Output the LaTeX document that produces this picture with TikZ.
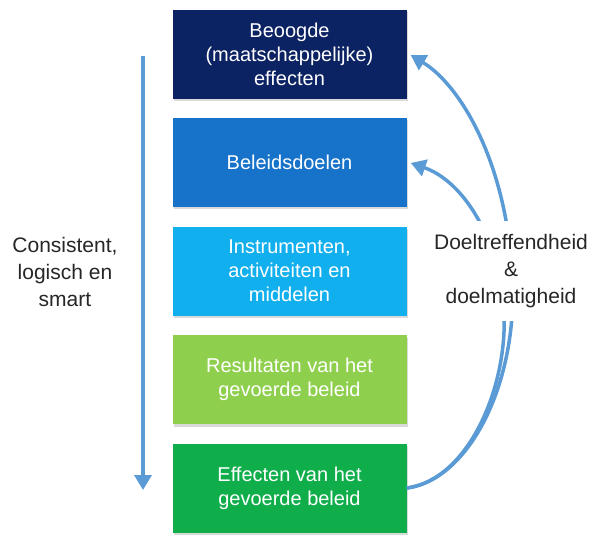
\documentclass[tikz,border=0pt]{standalone}
\usepackage{fontspec}
\setmainfont{Liberation Sans}
\usetikzlibrary{arrows.meta,shadows}
\definecolor{kleur1}{HTML}{0B2263}
\definecolor{kleur2}{HTML}{1772C9}
\definecolor{kleur3}{HTML}{12AFEE}
\definecolor{kleur4}{HTML}{8FCF4E}
\definecolor{kleur5}{HTML}{10AE4B}
\definecolor{pijlblauw}{HTML}{5B9BD5}
\definecolor{tekstgrijs}{HTML}{262626}
\begin{document}
\begin{tikzpicture}[x=1pt,y=-1pt,
                          box/.style={minimum width=234pt,minimum height=89pt,inner sep=0pt,align=center,text=white,
                            font=\fontsize{20}{24}\selectfont,
                            drop shadow={shadow xshift=1.5pt,shadow yshift=-2.5pt,opacity=.3}},
                          pijl/.style={draw=pijlblauw,line width=3.5pt,-{Triangle[length=15pt,width=17pt]}},
                          tekst/.style={align=center,text=tekstgrijs,font=\fontsize{21}{27}\selectfont}
                        ]
                        \useasboundingbox (0,0) rectangle (594,538);

                        \foreach \nr/\kleur/\y/\tekst in {1/kleur1/54/{Beoogde\\(maatschappelijke)\\effecten},
                            2/kleur2/162/Beleidsdoelen,
                            3/kleur3/271/{Instrumenten,\\activiteiten en\\middelen},
                            4/kleur4/379.5/{Resultaten van het\\gevoerde beleid},
                            5/kleur5/488/{Effecten van het\\gevoerde beleid}} {
                            \node[box,fill=\kleur] (b\nr) at (289.5,\y) {\tekst};
                          }

                        \coordinate (lt) at (143,56);
                        \coordinate (lb) at (143,490);
                        \draw[pijl] (lt) -- (lb);
                        \node[tekst] (cons) at (65,272) {Consistent,\\logisch en\\smart};

                        \coordinate (d1) at ([xshift=4pt,yshift=-1pt]b1.east);
                        \coordinate (d2) at ([xshift=4pt,yshift=-1pt]b2.east);
                        \draw[pijl] (b5.east) .. controls (470,480) and (520,380) .. (512,270)
                                    .. controls (505,160) and (460,85) .. (d1);
                        \draw[pijl] (b5.east) .. controls (470,480) and (512,380) .. (503,300)
                                    .. controls (495,230) and (460,180) .. (d2);
                        \node[tekst,fill=white,inner xsep=2pt,inner ysep=13pt] (doel) at (511,271) {Doeltreffendheid\\\&\\doelmatigheid};
                      \end{tikzpicture}
\end{document}
